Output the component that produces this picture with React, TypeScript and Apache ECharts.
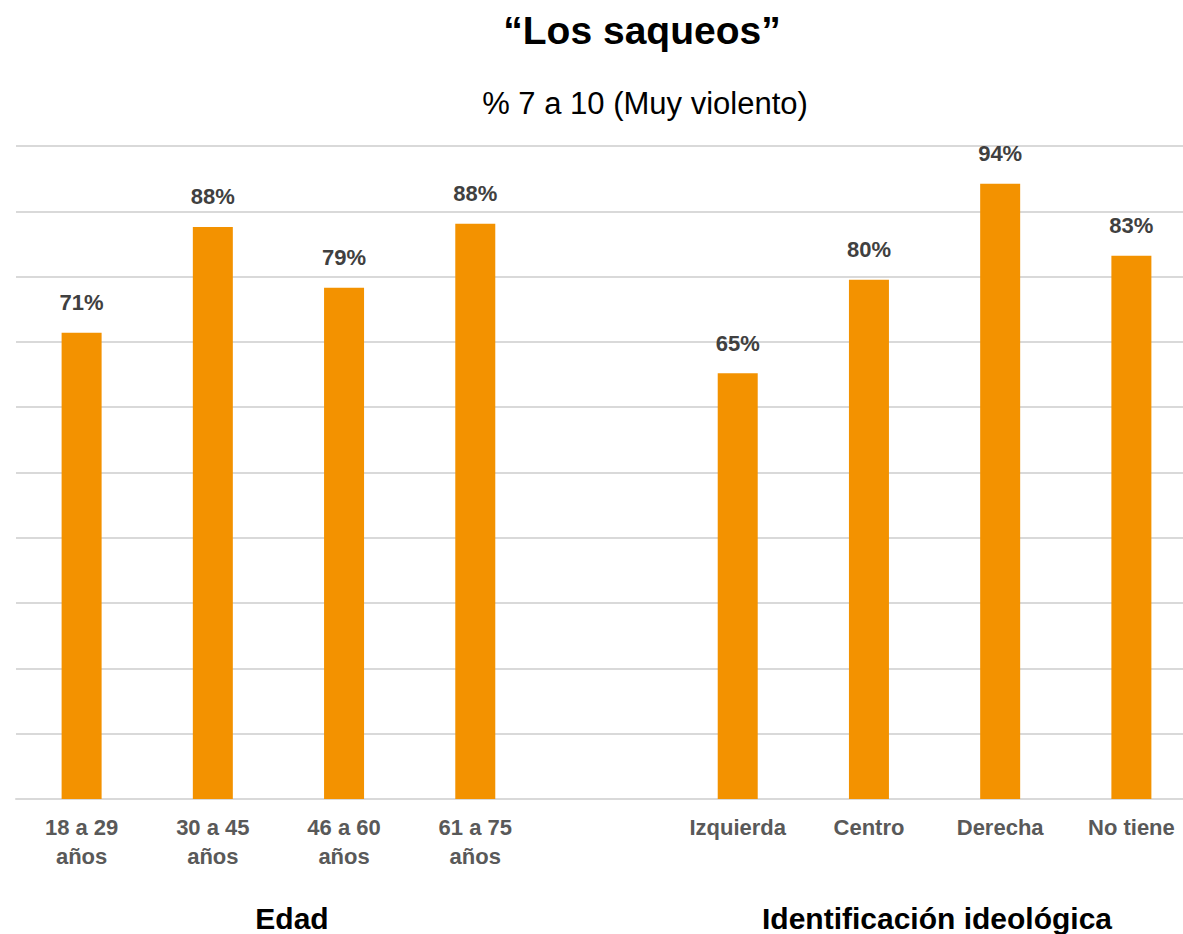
import React, { useEffect, useRef } from "react";
import * as echarts from "echarts";

const categories = [
  "18 a 29\naños",
  "30 a 45\naños",
  "46 a 60\naños",
  "61 a 75\naños",
  "",
  "Izquierda",
  "Centro",
  "Derecha",
  "No tiene",
];
const values: (number | null)[] = [71.4, 87.6, 78.3, 88.1, null, 65.2, 79.5, 94.2, 83.2];
const valueLabels = ["71%", "88%", "79%", "88%", "", "65%", "80%", "94%", "83%"];
const titleText = "“Los saqueos”";
const subtitleText = "% 7 a 10 (Muy violento)";
const groupLabels = ["Edad", "Identificación ideológica"];

const FONT = "'Liberation Sans', Arial, sans-serif";

export default function App() {
  const ref = useRef<HTMLDivElement>(null);
  useEffect(() => {
    if (!ref.current) return;
    const chart = echarts.init(ref.current, null, { renderer: "svg" });
    chart.setOption({
      animation: false,
      backgroundColor: "#ffffff",
      textStyle: { fontFamily: FONT },
      title: [
        {
          text: titleText,
          left: 637,
          top: 6,
          textAlign: "center",
          textStyle: { fontSize: 39, fontWeight: "bold", color: "#000000", fontFamily: FONT },
        },
        {
          text: subtitleText,
          left: 640,
          top: 83,
          textAlign: "center",
          textStyle: { fontSize: 31, fontWeight: "normal", color: "#000000", fontFamily: FONT },
        },
      ],
      graphic: [
        {
          type: "text",
          x: 292,
          y: 918,
          style: {
            text: groupLabels[0],
            font: `bold 30px ${FONT}`,
            fill: "#000000",
            textAlign: "center",
            textVerticalAlign: "middle",
          },
        },
        {
          type: "text",
          x: 937,
          y: 918,
          style: {
            text: groupLabels[1],
            font: `bold 30px ${FONT}`,
            fill: "#000000",
            textAlign: "center",
            textVerticalAlign: "middle",
          },
        },
      ],
      grid: { left: 16, top: 146, width: 1181, height: 653, containLabel: false },
      xAxis: {
        type: "category",
        data: categories,
        axisLine: { show: true, lineStyle: { color: "#D9D9D9", width: 2 } },
        axisTick: { show: false },
        axisLabel: {
          interval: 0,
          margin: 14,
          fontSize: 22,
          fontWeight: "bold",
          color: "#595959",
          lineHeight: 29,
          fontFamily: FONT,
        },
      },
      yAxis: {
        type: "value",
        min: 0,
        max: 100,
        interval: 10,
        axisLine: { show: false },
        axisTick: { show: false },
        axisLabel: { show: false },
        splitLine: { show: true, lineStyle: { color: "#D9D9D9", width: 2 } },
      },
      series: [
        {
          type: "bar",
          data: values,
          barWidth: 40,
          itemStyle: { color: "#F39200" },
          label: {
            show: true,
            position: "top",
            distance: 19,
            fontSize: 22,
            fontWeight: "bold",
            color: "#404040",
            fontFamily: FONT,
            formatter: (p: any) => valueLabels[p.dataIndex],
          },
        },
      ],
    });
    return () => chart.dispose();
  }, []);
  return (
    <div style={{ position: "fixed", left: 0, top: 0, width: 1183, height: 934, overflow: "hidden", background: "#fff" }}>
      <div ref={ref} style={{ width: 1210, height: 934 }} />
    </div>
  );
}
